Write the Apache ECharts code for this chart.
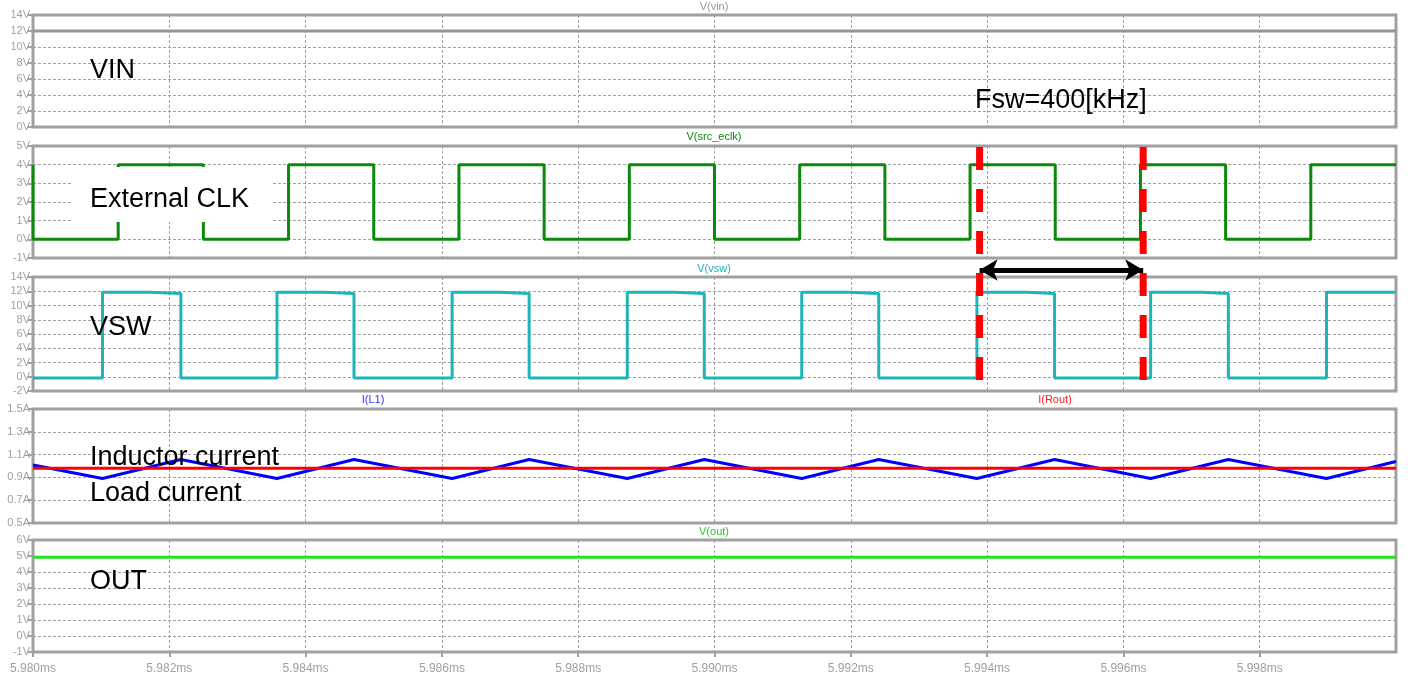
<!DOCTYPE html>
<html>
<head>
<meta charset="utf-8">
<script src="https://cdn.jsdelivr.net/npm/echarts@6/dist/echarts.min.js"></script>
<style>
  html, body { margin: 0; padding: 0; background: #fff; }
  #main { width: 1411px; height: 676px; }
</style>
</head>
<body>
<div id="main"></div>
<script>
// time axis [ms]
const tStart = 5.980
const tEnd = 6.000
const tTickStep = 0.002

// V(vin)
const vinTime = [5.980, 6.000]
const vinValue = [12, 12]

// V(src_eclk) : edge times [ms] and levels [V]
const clkFall = [5.9800, 5.9825, 5.9850, 5.9875, 5.9900, 5.9925, 5.9950, 5.9975]
const clkRise = [5.98125, 5.98375, 5.98625, 5.98875, 5.99125, 5.99375, 5.99625, 5.99875]
const clkHigh = 4.0
const clkLow = 0.0

// V(vsw) : edge times [ms] and levels [V]
const vswRise = [5.98102, 5.98358, 5.98615, 5.98872, 5.99128, 5.99385, 5.99640, 5.99898]
const vswStep = [5.98171, 5.98427, 5.98684, 5.98941, 5.99197, 5.99458, 5.99714]
const vswFall = [5.98217, 5.98471, 5.98728, 5.98985, 5.99241, 5.99499, 5.99754]
const vswHigh1 = 11.85
const vswHigh2 = 11.7
const vswLow = -0.18

// I(L1) corners [ms], [A]
const iLTime = [5.9800, 5.98102, 5.98217, 5.98358, 5.98471, 5.98615, 5.98728, 5.98872, 5.98985,
  5.99128, 5.99241, 5.99385, 5.99499, 5.99640, 5.99754, 5.99898, 6.0000]
const iLValue = [1.008, 0.891, 1.057, 0.891, 1.057, 0.891, 1.057, 0.891, 1.057,
  0.891, 1.057, 0.891, 1.057, 0.891, 1.057, 0.891, 1.040]

// I(Rout)
const iRoutTime = [5.980, 6.000]
const iRoutValue = [0.98, 0.98]

// V(out)
const voutTime = [5.980, 6.000]
const voutValue = [4.92, 4.92]

// Fsw markers [ms]
const markerTime = [5.99389, 5.99629]
const arrowLevel = 0.472

const pair = (ts, vs) => ts.map((t, i) => [t, vs[i]])

// builds a step waveform from level-change events
function stepWave(events, initial) {
  events.sort((a, b) => a[0] - b[0])
  const pts = [[tStart, initial]]
  let lvl = initial
  events.forEach(([t, v]) => {
    pts.push([t, lvl])
    pts.push([t, v])
    lvl = v
  })
  pts.push([tEnd, lvl])
  return pts
}

const clkData = stepWave(
  clkRise.map(t => [t, clkHigh]).concat(clkFall.map(t => [t, clkLow])),
  clkHigh
)
const vswData = stepWave(
  vswRise.map(t => [t, vswHigh1])
    .concat(vswStep.map(t => [t, vswHigh2]))
    .concat(vswFall.map(t => [t, vswLow])),
  vswLow
)

const gridColor = '#a0a0a0'
const labelColor = '#a0a0a0'

const panels = [
  { top: 15, height: 112, min: 0, max: 14, step: 2, unit: 'V', dec: 0 },
  { top: 146, height: 112, min: -1, max: 5, step: 1, unit: 'V', dec: 0 },
  { top: 277, height: 114, min: -2, max: 14, step: 2, unit: 'V', dec: 0 },
  { top: 409, height: 114, min: 0.5, max: 1.5, step: 0.2, unit: 'A', dec: 1 },
  { top: 540, height: 112, min: -1, max: 6, step: 1, unit: 'V', dec: 0 }
]

const grids = panels.map(p => ({
  left: 33, right: 15, top: p.top, height: p.height,
  show: true, borderColor: gridColor, borderWidth: 3
}))
grids.push({ left: 33, right: 15, top: 147, height: 233, show: false })

const xAxes = panels.map((p, i) => ({
  type: 'value', gridIndex: i, min: tStart, max: tEnd, interval: tTickStep,
  axisLine: { show: false, onZero: false },
  axisTick: { show: i === 4, length: 5, lineStyle: { color: gridColor, width: 2 } },
  axisLabel: {
    show: i === 4, showMaxLabel: false, color: labelColor, fontSize: 12,
    fontFamily: 'Liberation Sans', margin: 11,
    formatter: v => v.toFixed(3) + 'ms'
  },
  splitLine: { show: true, lineStyle: { color: gridColor, width: 1, type: [3, 2] } }
}))
xAxes.push({ type: 'value', gridIndex: 5, min: tStart, max: tEnd, show: false })

const yAxes = panels.map((p, i) => ({
  type: 'value', gridIndex: i, min: p.min, max: p.max, interval: p.step,
  axisLine: { show: false, onZero: false },
  axisTick: { show: true, length: 5, lineStyle: { color: gridColor, width: 2 } },
  axisLabel: {
    color: labelColor, fontSize: 11, fontFamily: 'Liberation Sans', margin: 3,
    formatter: v => v.toFixed(p.dec) + p.unit
  },
  splitLine: { show: true, lineStyle: { color: gridColor, width: 1, type: [3, 2] } }
}))
yAxes.push({ type: 'value', gridIndex: 5, min: 0, max: 1, show: false })

function trace(name, idx, data, color, width) {
  return {
    name, type: 'line', xAxisIndex: idx, yAxisIndex: idx, data,
    showSymbol: false, symbol: 'none', animation: false, silent: true,
    lineStyle: { color, width: width || 3 }
  }
}

const series = [
  trace('V(vin)', 0, pair(vinTime, vinValue), '#969696'),
  trace('V(src_eclk)', 1, clkData, '#0a8a0a'),
  trace('V(vsw)', 2, vswData, '#1fb4b8'),
  trace('I(L1)', 3, pair(iLTime, iLValue), '#0000ff'),
  trace('I(Rout)', 3, pair(iRoutTime, iRoutValue), '#ff0000'),
  trace('V(out)', 4, pair(voutTime, voutValue), '#22e022')
]

markerTime.forEach((t, k) => {
  const s = trace('marker' + k, 5, [[t, 0], [t, 1]], '#ff0000', 7)
  s.lineStyle.type = [23, 19]
  s.lineStyle.cap = 'butt'
  s.z = 10
  if (k === 0) {
    s.markLine = {
      silent: true, animation: false,
      symbol: ['arrow', 'arrow'], symbolSize: [16, 18],
      label: { show: false },
      lineStyle: { color: '#000', width: 5, type: 'solid' },
      emphasis: { disabled: true },
      data: [[{ coord: [markerTime[0], arrowLevel] }, { coord: [markerTime[1], arrowLevel] }]]
    }
  }
  series.push(s)
})

const bigFont = '27px "Liberation Sans", Arial, sans-serif'
const smallFont = '11px "Liberation Sans", Arial, sans-serif'

function bigText(text, x, y) {
  return { type: 'text', x, y, z: 100, silent: true,
    style: { text, fill: '#000', font: bigFont, align: 'left', verticalAlign: 'middle' } }
}
function headText(text, x, y, color) {
  return { type: 'text', x, y, z: 100, silent: true,
    style: { text, fill: color, font: smallFont, align: 'center', verticalAlign: 'middle' } }
}

const graphic = [
  headText('V(vin)', 714, 7, '#969696'),
  headText('V(src_eclk)', 714, 137, '#0a8a0a'),
  headText('V(vsw)', 714, 269, '#1fb4b8'),
  headText('I(L1)', 373, 400, '#3333ff'),
  headText('I(Rout)', 1055, 400, '#ff2020'),
  headText('V(out)', 714, 532, '#22d022'),
  { type: 'rect', z: 99, silent: true, shape: { x: 71, y: 167, width: 202, height: 55 },
    style: { fill: '#fff' } },
  bigText('VIN', 90, 71),
  bigText('External CLK', 90, 200),
  bigText('VSW', 90, 328),
  bigText('Inductor current', 90, 458),
  bigText('Load current', 90, 494),
  bigText('OUT', 90, 582),
  bigText('Fsw=400[kHz]', 975, 101)
]

const chart = echarts.init(document.getElementById('main'))
chart.setOption({
  animation: false,
  backgroundColor: '#fff',
  grid: grids,
  xAxis: xAxes,
  yAxis: yAxes,
  series,
  graphic
})
</script>
</body>
</html>
